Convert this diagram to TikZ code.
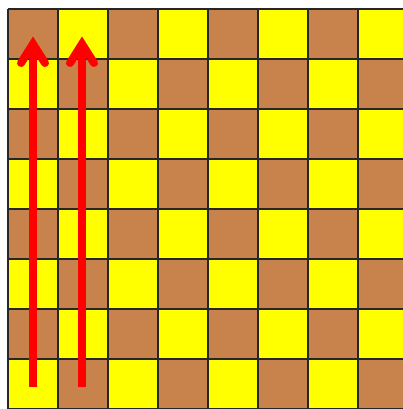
\documentclass[tikz,border=0pt]{standalone}
\definecolor{boardbrown}{RGB}{200,130,75}
\definecolor{boardyellow}{RGB}{255,255,0}
\definecolor{arrowred}{RGB}{255,0,0}
\tikzset{
  cell/.style={draw=black!85, line width=2.2pt},
  uparrow/.style={draw=arrowred, line width=8pt},
}
\begin{document}
\begin{tikzpicture}[x=1pt,y=-1pt]
\useasboundingbox (0,0) rectangle (403,409);
\fill[white] (0,0) rectangle (403,409);
\begin{scope}
\clip (0,0) rectangle (403,409);
\foreach \i in {0,...,7}{
  \foreach \j in {0,...,7}{
    \pgfmathparse{mod(\i+\j,2)==0 ? "boardbrown" : "boardyellow"}
    \edef\cc{\pgfmathresult}
    \fill[\cc] (8+50*\i,9+50*\j) rectangle ++(50,50);
  }
}
\foreach \k in {0,...,8}{
  \draw[black!85, line width=2.2pt] (8+50*\k,9) -- (8+50*\k,409);
  \draw[black!85, line width=2.2pt] (8,9+50*\k) -- (408,9+50*\k);
}
\end{scope}
\foreach \x in {33,82}{
  \draw[uparrow, line cap=butt] (\x,387) -- (\x,46);
  \draw[uparrow, line cap=round, line join=miter] (\x-12,63) -- (\x,44) -- (\x+12,63);
}
\end{tikzpicture}
\end{document}
